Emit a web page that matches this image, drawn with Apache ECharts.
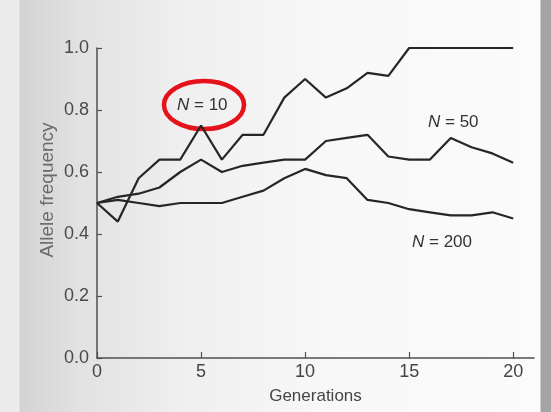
<!DOCTYPE html>
<html>
<head>
<meta charset="utf-8">
<script src="https://cdn.jsdelivr.net/npm/echarts@6/dist/echarts.min.js"></script>
<style>
  html, body { margin: 0; padding: 0; }
  body {
    width: 551px; height: 412px; overflow: hidden;
    background: linear-gradient(to right,
      #ebebeb 0px, #ebebeb 19px, #d3d3d3 20px, #e2e2e2 80px,
      #efefef 180px, #f8f8f8 330px, #fbfbfb 540px, #a4a4a4 541px, #a4a4a4 551px);
  }
  #chart { width: 551px; height: 412px; }
</style>
</head>
<body>
<div id="chart"></div>
<script>
// Allele frequency over 20 generations of drift, three population sizes
const generations = [0,1,2,3,4,5,6,7,8,9,10,11,12,13,14,15,16,17,18,19,20];
const freqN10  = [0.50,0.44,0.58,0.64,0.64,0.75,0.64,0.72,0.72,0.84,0.90,0.84,0.87,0.92,0.91,1.00,1.00,1.00,1.00,1.00,1.00];
const freqN50  = [0.50,0.52,0.53,0.55,0.60,0.64,0.60,0.62,0.63,0.64,0.64,0.70,0.71,0.72,0.65,0.64,0.64,0.71,0.68,0.66,0.63];
const freqN200 = [0.50,0.51,0.50,0.49,0.50,0.50,0.50,0.52,0.54,0.58,0.61,0.59,0.58,0.51,0.50,0.48,0.47,0.46,0.46,0.47,0.45];
const xTicks = [0, 5, 10, 15, 20];

const ink = '#262626';
const axisInk = '#505050';
const font = 'Liberation Sans, Arial, sans-serif';

function lineSeries(name, values) {
  return {
    name: name,
    type: 'line',
    data: generations.map((g, i) => [g, values[i]]),
    symbol: 'none',
    smooth: false,
    lineStyle: { color: ink, width: 2.2 },
    silent: true
  };
}

function curveLabel(text) {
  return {
    text: '{i|N} = ' + text, fontFamily: font, fontSize: 17, fill: '#333',
    rich: { i: { fontStyle: 'italic', fontFamily: font, fontSize: 17, fill: '#333' } }
  };
}

const chart = echarts.init(document.getElementById('chart'), null, { renderer: 'canvas' });
chart.setOption({
  backgroundColor: 'transparent',
  animation: false,
  grid: { left: 97, right: 17, top: 48, bottom: 54 },
  xAxis: {
    type: 'value', min: 0, max: 21, interval: 5,
    name: 'Generations', nameLocation: 'middle', nameGap: 30,
    nameTextStyle: { fontFamily: font, fontSize: 17, color: '#444' },
    axisLine: { lineStyle: { color: axisInk, width: 1.5 } },
    axisTick: { inside: true, length: 6, customValues: xTicks, lineStyle: { color: axisInk, width: 1.2 } },
    axisLabel: { customValues: xTicks, fontFamily: font, fontSize: 18, color: '#444', margin: 5 },
    splitLine: { show: false }
  },
  yAxis: {
    type: 'value', min: 0, max: 1, interval: 0.2,
    axisLine: { show: true, lineStyle: { color: axisInk, width: 1.5 } },
    axisTick: { show: true, inside: true, length: 5, lineStyle: { color: axisInk, width: 1.2 } },
    axisLabel: { fontFamily: font, fontSize: 18, color: '#4a4a4a', margin: 8,
                 formatter: v => v.toFixed(1) },
    splitLine: { show: false }
  },
  series: [
    lineSeries('N = 10', freqN10),
    lineSeries('N = 50', freqN50),
    lineSeries('N = 200', freqN200)
  ],
  graphic: [
    {
      type: 'text', x: 48, y: 190, rotation: Math.PI / 2,
      style: { text: 'Allele frequency', fontFamily: font, fontSize: 19, fill: '#6a6a6a',
               align: 'center', verticalAlign: 'middle' }
    },
    { type: 'text', left: 177, top: 97, style: curveLabel('10') },
    {
      type: 'ellipse',
      shape: { cx: 204, cy: 105, rx: 40, ry: 24 },
      style: { fill: 'none', stroke: '#e5121b', lineWidth: 4.5 }
    },
    { type: 'text', left: 428, top: 114, style: curveLabel('50') },
    { type: 'text', left: 412, top: 234, style: curveLabel('200') }
  ]
});
</script>
</body>
</html>
